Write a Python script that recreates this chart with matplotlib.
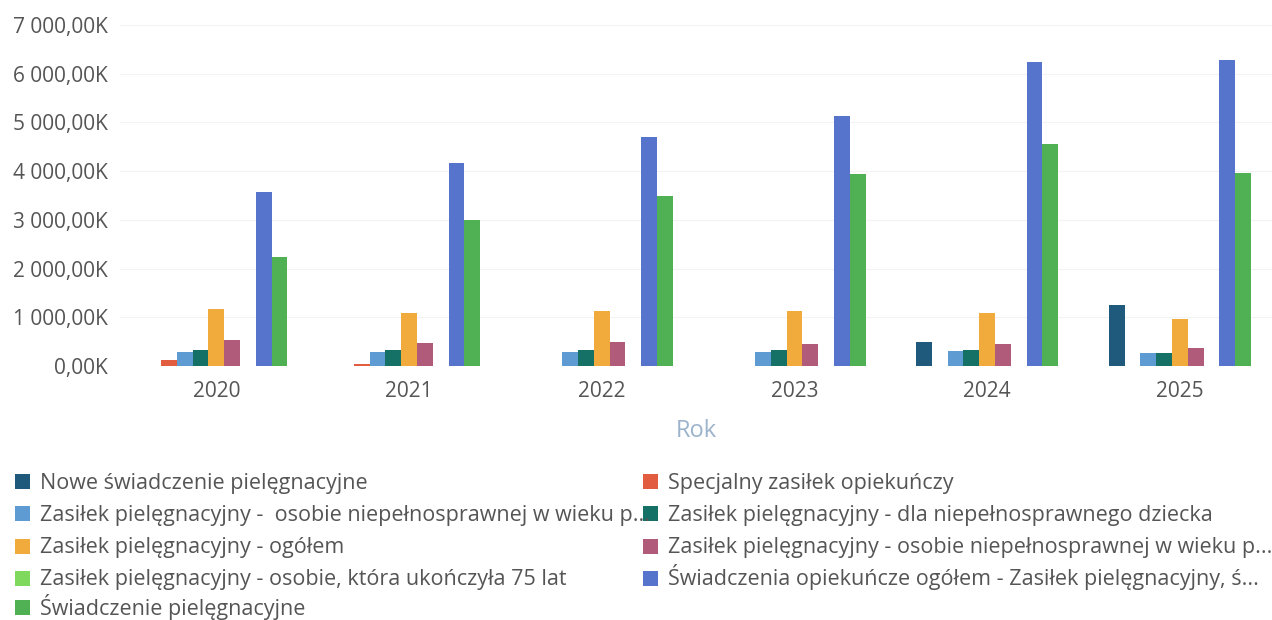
import matplotlib
matplotlib.use("Agg")
import matplotlib.pyplot as plt
from matplotlib.patches import Rectangle
from matplotlib.ticker import FuncFormatter, MultipleLocator
import numpy as np

plt.rcParams['font.family'] = ['Open Sans', 'DejaVu Sans']

# Data (values in thousands)
years = ['2020', '2021', '2022', '2023', '2024', '2025']

series_names = [
    'Nowe świadczenie pielęgnacyjne',
    'Specjalny zasiłek opiekuńczy',
    'Zasiłek pielęgnacyjny -  osobie niepełnosprawnej w wieku p...',
    'Zasiłek pielęgnacyjny - dla niepełnosprawnego dziecka',
    'Zasiłek pielęgnacyjny - ogółem',
    'Zasiłek pielęgnacyjny - osobie niepełnosprawnej w wieku p...',
    'Zasiłek pielęgnacyjny - osobie, która ukończyła 75 lat',
    'Świadczenia opiekuńcze ogółem - Zasiłek pielęgnacyjny, ś...',
    'Świadczenie pielęgnacyjne',
]

nowe = [0, 0, 0, 0, 500, 1250]
specjalny = [130, 50, 0, 0, 0, 0]
zp_wiek_a = [280, 280, 280, 280, 300, 270]
zp_dziecko = [330, 330, 330, 330, 330, 270]
zp_ogolem = [1170, 1080, 1130, 1130, 1080, 960]
zp_wiek_b = [530, 466, 500, 452, 452, 365]
zp_75 = [0, 0, 0, 0, 0, 0]
opiekuncze_ogolem = [3570, 4175, 4695, 5135, 6250, 6285]
swiadczenie = [2230, 3000, 3490, 3945, 4560, 3970]

values = [nowe, specjalny, zp_wiek_a, zp_dziecko, zp_ogolem,
          zp_wiek_b, zp_75, opiekuncze_ogolem, swiadczenie]

colors = ['#1f5a7c', '#e25c40', '#5e9bd3', '#157066', '#f1aa3c',
          '#b05b79', '#7fd95c', '#5674cc', '#4fb154']

# Plot
W, H = 1272, 620
fig = plt.figure(figsize=(W / 100, H / 100), dpi=100)
left_px, right_px, bottom_px, top_px = 120, 1272, 366, 25
ax = fig.add_axes([left_px / W, 1 - bottom_px / H,
                   (right_px - left_px) / W, (bottom_px - top_px) / H])

x = np.arange(len(years))
bar_w = 0.082
for i, (vals, col) in enumerate(zip(values, colors)):
    ax.bar(x + (i - 4) * bar_w, vals, width=bar_w, color=col,
           linewidth=0, label=series_names[i], zorder=3)

group_px = 192.7
ax.set_xlim(-0.5, -0.5 + (right_px - left_px) / group_px)
ax.set_ylim(0, 7000)
ax.yaxis.set_major_locator(MultipleLocator(1000))
ax.yaxis.set_major_formatter(FuncFormatter(
    lambda v, p: '{:,.2f}K'.format(v).replace(',', ' ').replace('.', ',')))
ax.set_xticks(x)
ax.set_xticklabels(years)

ax.tick_params(axis='both', length=0, labelsize=15, colors='#555555')
ax.tick_params(axis='y', pad=9)
ax.tick_params(axis='x', pad=11)
for s in ax.spines.values():
    s.set_visible(False)
ax.grid(axis='y', color='#f3f3f3', linewidth=0.8, zorder=0)

ax.set_xlabel('Rok', fontsize=17, color='#9bb3cb', labelpad=12)

# Legend: two columns, filled row by row (positions in figure pixels)
row_centers = [481, 513, 546, 578, 607]
col_x = [15, 643]
box = 15
for i, (name, col) in enumerate(zip(series_names, colors)):
    r, c = divmod(i, 2)
    yc = row_centers[r]
    fig.add_artist(Rectangle(((col_x[c]) / W, 1 - (yc + box / 2) / H),
                             box / W, box / H, transform=fig.transFigure,
                             facecolor=col, edgecolor='none'))
    fig.text((col_x[c] + 25) / W, 1 - (yc + 7.5) / H, name,
             fontsize=15.5, color='#555555', va='baseline', ha='left')

fig.savefig('out.png', dpi=100, facecolor='white')
